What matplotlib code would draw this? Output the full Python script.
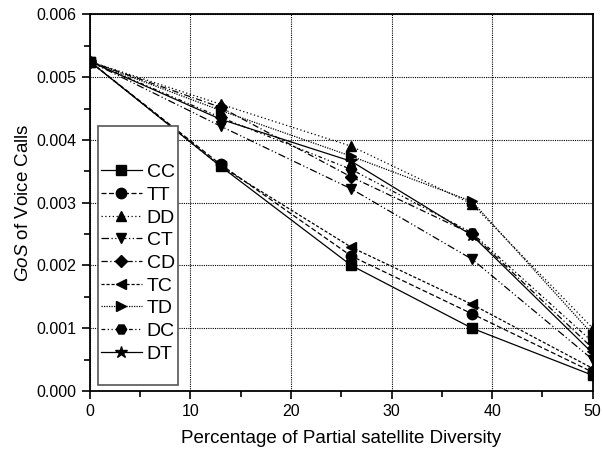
import numpy as np
import matplotlib.pyplot as plt
from matplotlib.patches import Rectangle
from matplotlib.ticker import MultipleLocator

plt.rcParams['font.family'] = ['Liberation Sans', 'DejaVu Sans']
plt.rcParams['mathtext.fontset'] = 'custom'
plt.rcParams['mathtext.it'] = 'Liberation Sans:italic'
plt.rcParams['mathtext.rm'] = 'Liberation Sans'

# diversity percentages
x_pct = [0, 13, 26, 38, 50]

# GoS of voice calls per scheme
cc = [0.00525, 0.00358, 0.00200, 0.00100, 0.00025]
tt = [0.00525, 0.00361, 0.00215, 0.00123, 0.00030]
dd = [0.00525, 0.00457, 0.00390, 0.00298, 0.00100]
ct = [0.00525, 0.00422, 0.00322, 0.00210, 0.00050]
cd = [0.00525, 0.00452, 0.00341, 0.00250, 0.00068]
tc = [0.00525, 0.00358, 0.00229, 0.00138, 0.00036]
td = [0.00525, 0.00447, 0.00374, 0.00302, 0.00090]
dc = [0.00525, 0.00436, 0.00353, 0.00252, 0.00078]
dt = [0.00525, 0.00433, 0.00366, 0.00248, 0.00060]

series = [
    ('CC', cc, 's', '-'),
    ('TT', tt, 'o', (0, (4, 2))),
    ('DD', dd, '^', (0, (1, 2))),
    ('CT', ct, 'v', (0, (6, 2, 1, 2, 1, 2))),
    ('CD', cd, 'D', (0, (5, 2, 1, 2))),
    ('TC', tc, '<', (0, (2.5, 1.5))),
    ('TD', td, '>', (0, (1, 1))),
    ('DC', dc, 'H', (0, (3, 2, 1, 2, 1, 2))),
    ('DT', dt, '*', '-'),
]

fig = plt.figure(figsize=(6.03, 4.57), dpi=100)
ax = fig.add_axes([0.149, 0.1444, 0.834, 0.824])

for name, vals, mk, ls in series:
    ms = 7.5
    if mk == '*':
        ms = 9
    elif mk == 'D':
        ms = 6.5
    ax.plot(x_pct, vals, color='black', linestyle=ls, linewidth=0.9,
            marker=mk, markersize=ms, label=name)

ax.set_xlim(0, 50)
ax.set_ylim(0, 0.006)
ax.xaxis.set_major_locator(MultipleLocator(10))
ax.xaxis.set_minor_locator(MultipleLocator(5))
ax.yaxis.set_major_locator(MultipleLocator(0.001))
ax.yaxis.set_minor_locator(MultipleLocator(0.0005))
ax.yaxis.set_major_formatter(plt.FuncFormatter(lambda v, p: f'{v:.3f}'))
ax.tick_params(which='both', direction='out', labelsize=11.5, width=1.2)
ax.tick_params(which='major', length=6)
ax.tick_params(which='minor', length=4)
for s in ax.spines.values():
    s.set_linewidth(1.3)
ax.grid(True, which='major', color='black', linestyle=(0, (1, 1)), linewidth=0.8)

ax.set_xlabel('Percentage of Partial satellite Diversity', fontsize=13.5, labelpad=8)
ax.set_ylabel(r'$\mathit{GoS}$ of Voice Calls', fontsize=13.5, labelpad=3)

# legend box (Origin style, with empty space above and below the entries)
box = Rectangle((0.016, 0.016), 0.159, 0.688, transform=ax.transAxes,
                facecolor='white', edgecolor='#555555', linewidth=1.2, zorder=4)
ax.add_patch(box)
leg = ax.legend(loc='upper left', bbox_to_anchor=(0.022, 0.604), borderaxespad=0,
                fontsize=14, handlelength=2.1, handletextpad=0.26,
                labelspacing=0.26, frameon=False, borderpad=0)
leg.set_zorder(5)

fig.savefig('out.png', dpi=100)
